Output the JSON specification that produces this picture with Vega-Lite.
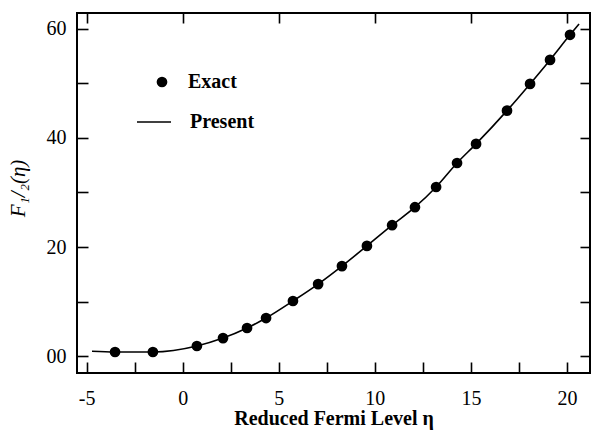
{
  "$schema": "https://vega.github.io/schema/vega-lite/v6.json",
  "width": 513,
  "height": 360,
  "autosize": "none",
  "padding": {"left": 77, "top": 13, "right": 3, "bottom": 63},
  "background": "white",
  "config": {
    "view": {"stroke": "black", "strokeWidth": 2},
    "font": "Liberation Serif",
    "axis": {
      "grid": false,
      "domain": false,
      "tickColor": "black",
      "tickWidth": 1.6,
      "labelFont": "Liberation Serif",
      "labelColor": "black",
      "labelFontSize": 20,
      "titleFont": "Liberation Serif",
      "titleColor": "black"
    },
    "legend": {
      "labelFont": "Liberation Serif",
      "labelFontSize": 20,
      "labelFontWeight": "bold",
      "labelColor": "black",
      "padding": 0
    }
  },
  "datasets": {
    "exact": [
      {"eta": -3.52, "F": 0.75, "series": "Exact"},
      {"eta": -1.55, "F": 0.75, "series": "Exact"},
      {"eta": 0.74, "F": 1.85, "series": "Exact"},
      {"eta": 2.10, "F": 3.3, "series": "Exact"},
      {"eta": 3.35, "F": 5.15, "series": "Exact"},
      {"eta": 4.34, "F": 6.98, "series": "Exact"},
      {"eta": 5.74, "F": 10.1, "series": "Exact"},
      {"eta": 7.05, "F": 13.2, "series": "Exact"},
      {"eta": 8.29, "F": 16.5, "series": "Exact"},
      {"eta": 9.59, "F": 20.2, "series": "Exact"},
      {"eta": 10.90, "F": 24.0, "series": "Exact"},
      {"eta": 12.09, "F": 27.3, "series": "Exact"},
      {"eta": 13.19, "F": 31.0, "series": "Exact"},
      {"eta": 14.28, "F": 35.4, "series": "Exact"},
      {"eta": 15.27, "F": 38.9, "series": "Exact"},
      {"eta": 16.88, "F": 45.0, "series": "Exact"},
      {"eta": 18.08, "F": 49.9, "series": "Exact"},
      {"eta": 19.12, "F": 54.3, "series": "Exact"},
      {"eta": 20.16, "F": 58.9, "series": "Exact"}
    ],
    "present": [
      {"eta": -4.72, "F": 0.9, "series": "Present"},
      {"eta": -3.52, "F": 0.75, "series": "Present"},
      {"eta": -1.55, "F": 0.75, "series": "Present"},
      {"eta": 0.74, "F": 1.85, "series": "Present"},
      {"eta": 2.10, "F": 3.3, "series": "Present"},
      {"eta": 3.35, "F": 5.15, "series": "Present"},
      {"eta": 4.34, "F": 6.98, "series": "Present"},
      {"eta": 5.74, "F": 10.1, "series": "Present"},
      {"eta": 7.05, "F": 13.2, "series": "Present"},
      {"eta": 8.29, "F": 16.5, "series": "Present"},
      {"eta": 9.59, "F": 20.2, "series": "Present"},
      {"eta": 10.90, "F": 24.0, "series": "Present"},
      {"eta": 12.09, "F": 27.3, "series": "Present"},
      {"eta": 13.19, "F": 31.0, "series": "Present"},
      {"eta": 14.28, "F": 35.4, "series": "Present"},
      {"eta": 15.27, "F": 38.9, "series": "Present"},
      {"eta": 16.88, "F": 45.0, "series": "Present"},
      {"eta": 18.08, "F": 49.9, "series": "Present"},
      {"eta": 19.12, "F": 54.3, "series": "Present"},
      {"eta": 20.16, "F": 58.9, "series": "Present"},
      {"eta": 20.63, "F": 60.9, "series": "Present"}
    ]
  },
  "layer": [
    {
      "data": {"name": "present"},
      "mark": {"type": "line", "strokeWidth": 1.6, "interpolate": "monotone"},
      "encoding": {
        "x": {
          "field": "eta", "type": "quantitative",
          "scale": {"domain": [-5.5, 21.2], "nice": false, "zero": false},
          "axis": {"orient": "top", "values": [-5, 0, 5, 10, 15, 20], "labels": false, "tickSize": -10, "title": null}
        },
        "y": {
          "field": "F", "type": "quantitative",
          "scale": {"domain": [-3.1, 62.9], "nice": false, "zero": false},
          "axis": {"orient": "right", "values": [0, 10, 20, 30, 40, 50, 60], "labels": false, "tickSize": -10, "title": null}
        },
        "color": {
          "field": "series", "type": "nominal",
          "scale": {"domain": ["Present"], "range": ["black"]},
          "legend": {
            "orient": "none",
            "legendX": 59,
            "legendY": 91,
            "title": null,
            "symbolType": "stroke",
            "symbolSize": 1156,
            "symbolStrokeWidth": 1.5,
            "labelOffset": 18
          }
        }
      }
    },
    {
      "data": {"name": "exact"},
      "mark": {"type": "point", "filled": true, "color": "black", "opacity": 1, "size": 115},
      "encoding": {
        "x": {
          "field": "eta", "type": "quantitative",
          "axis": {
            "orient": "bottom",
            "values": [-5, -2.5, 0, 2.5, 5, 7.5, 10, 12.5, 15, 17.5, 20],
            "labelExpr": "datum.value % 5 === 0 ? ('' + datum.value) : ''",
            "tickSize": -11,
            "labelPadding": 26,
            "title": "Reduced Fermi Level η",
            "titleFontSize": 20,
            "titleFontWeight": "bold",
            "titlePadding": 0
          }
        },
        "y": {
          "field": "F", "type": "quantitative",
          "axis": {
            "orient": "left",
            "values": [0, 10, 20, 30, 40, 50, 60],
            "labelExpr": "datum.value === 0 ? '00' : (datum.value % 20 === 0 ? ('' + datum.value) : '')",
            "tickSize": -11,
            "labelPadding": 22,
            "title": "F₁/₂(η)",
            "titleFontSize": 21,
            "titleFontStyle": "italic",
            "titleFontWeight": "normal",
            "titleAngle": -90,
            "titleX": -59,
            "titleY": 175,
            "titleAlign": "center",
            "titleBaseline": "middle"
          }
        },
        "shape": {
          "field": "series", "type": "nominal",
          "scale": {"domain": ["Exact"], "range": ["circle"]},
          "legend": {
            "orient": "none",
            "legendX": 75,
            "legendY": 59,
            "title": null,
            "symbolSize": 115,
            "symbolFillColor": "black",
            "labelOffset": 16
          }
        }
      }
    }
  ]
}
